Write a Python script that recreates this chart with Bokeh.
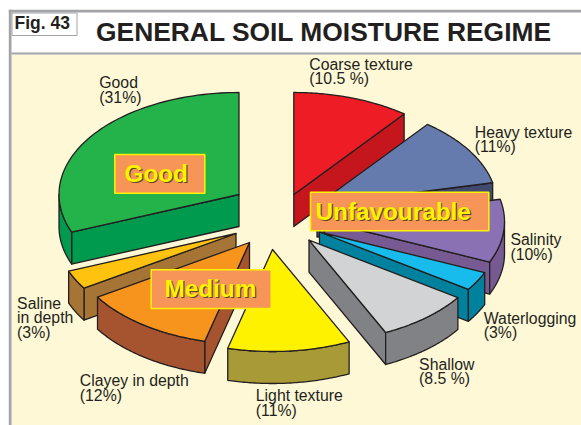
import numpy as np
from bokeh.core.properties import value
from bokeh.embed import file_html
from bokeh.models import Range1d
from bokeh.plotting import figure
from bokeh.resources import INLINE

# ---- data ----
categories = ["Good", "Saline in depth", "Clayey in depth", "Light texture", "Shallow",
              "Waterlogging", "Salinity", "Heavy texture", "Coarse texture"]
shares = [31, 3, 12, 11, 8.5, 3, 10, 11, 10.5]
share_labels = ["(31%)", "(3%)", "(12%)", "(11%)", "(8.5 %)", "(3%)", "(10%)", "(11%)", "(10.5 %)"]
group_labels = ["Good", "Medium", "Unfavourable"]
title_text = "GENERAL SOIL MOISTURE REGIME"
fig_text = "Fig. 43"

# ---- styles / layout (reference pixel coordinates) ----
top_colors = ["#24b24b", "#ffc20e", "#f7941d", "#fff200", "#d1d3d4", "#17bced", "#8a71b3", "#667bad", "#ee1c25"]
wall_colors = ["#009a4e", "#a67434", "#a65430", "#a89a36", "#808285", "#00829e", "#785a92", "#3f4a6e", "#c4161c"]
centers = [(238.5, 194), (235.5, 233), (249, 242), (272, 249), (308.5, 239.7),
           (319, 231.5), (324, 221), (316.5, 204.5), (293.3, 194)]
draw_order = [8, 7, 6, 5, 4, 0, 1, 2, 3]
RX, RY, DEPTH = 180, 102, 32
INK = "#231f20"
CREAM = "#fef8d6"
GRAY = "#a3a4a8"
LEFT, RIGHT, TOP, BOTTOM = 0, 581, 0, 425
BASE_SHIFT = 0.36

label_lines = {
    0: (98.8, [(88, "Good")], 102.7),
    1: (16.6, [(308.7, "Saline"), (323, "in depth")], 338),
    2: (79.3, [(386, "Clayey in depth")], 401),
    3: (255.3, [(401, "Light texture")], 416),
    4: (418.6, [(369.3, "Shallow")], 384),
    5: (483.3, [(323.7, "Waterlogging")], 338),
    6: (510, [(244.7, "Salinity")], 259.7),
    7: (474.3, [(137.5, "Heavy texture")], 152),
    8: (308.8, [(69.5, "Coarse texture")], 84),
}
boxes = [(114.3, 204.3, 154, 192.7, 124, 182, "#f79558"),
         (150.7, 270.7, 269.3, 308, 164, 297, "#f79558"),
         (310, 488.3, 191.7, 230.3, 315, 220, "#f79558")]

p = figure(width=RIGHT - LEFT, height=BOTTOM - TOP, x_range=Range1d(LEFT, RIGHT), y_range=Range1d(BOTTOM, TOP),
           output_backend="svg", toolbar_location=None, min_border=0, outline_line_color=None,
           background_fill_color="white", border_fill_color="white")
p.axis.visible = False
p.grid.visible = False

# frame
p.quad(left=[11], right=[RIGHT], top=[12], bottom=[52], fill_color="white", line_color=None)
p.quad(left=[11], right=[RIGHT], top=[54], bottom=[BOTTOM], fill_color=CREAM, line_color=None)
p.quad(left=[8.3], right=[11], top=[9.3], bottom=[BOTTOM], fill_color=GRAY, line_color=None)
p.quad(left=[8.3], right=[RIGHT], top=[9.3], bottom=[12], fill_color=GRAY, line_color=None)
p.quad(left=[11], right=[RIGHT], top=[52], bottom=[54], fill_color=GRAY, line_color=None)
p.quad(left=[11.5], right=[76.5], top=[12.5], bottom=[35], fill_color="white", line_color=GRAY, line_width=1)

# slice geometry comes from the shares, going counter-clockwise from twelve o'clock
cum = np.cumsum([0] + shares) / sum(shares) * 360 + 90


def arc(cx, cy, a0, a1, drop=0.0):
    t = np.radians(np.linspace(a0, a1, 60))
    return cx + RX * np.cos(t), cy - RY * np.sin(t) + drop


def poly(xs, ys, fill):
    p.patch(list(xs), list(ys), fill_color=fill, line_color=INK, line_width=1.3, line_join="round")


def put_text(x, y, s, size, color=INK, bold=False):
    p.text([x], [y - BASE_SHIFT * size], text=[s], text_font=value("Liberation Sans"),
           text_font_style="bold" if bold else "normal", text_font_size=f"{size}px",
           text_color=color, text_baseline="alphabetic", text_align="left")


for i in draw_order:
    cx, cy = centers[i]
    a0, a1 = cum[i], cum[i + 1]
    wall = wall_colors[i]
    # radial cut faces that look towards the viewer
    for a, visible in ((a0, np.cos(np.radians(a0)) > 1e-6), (a1, np.cos(np.radians(a1)) < -1e-6)):
        if visible:
            ex, ey = arc(cx, cy, a, a)
            poly([cx, ex[0], ex[0], cx], [cy, ey[0], ey[0] + DEPTH, cy + DEPTH], wall)
    # outer rim on the lower half of the ellipse
    for lo, hi in ((180, 360), (540, 720)):
        w0, w1 = max(a0, lo), min(a1, hi)
        if w1 > w0:
            ux, uy = arc(cx, cy, w0, w1)
            lx, ly = arc(cx, cy, w1, w0, DEPTH)
            poly(np.r_[ux, lx], np.r_[uy, ly], wall)
    # top face
    tx, ty = arc(cx, cy, a0, a1)
    poly(np.r_[cx, tx], np.r_[cy, ty], top_colors[i])

# slice labels
for i, (x, lines, share_y) in label_lines.items():
    for y, t in lines:
        put_text(x, y, t, 15.8)
    put_text(x, share_y, share_labels[i], 15.8)

# group boxes
for (l, r, t, b, tx, ty, c), name in zip(boxes, group_labels):
    p.quad(left=[l], right=[r], top=[t], bottom=[b], fill_color=c, line_color="#fff200", line_width=1.5)
    put_text(tx + 1.2, ty + 1.2, name, 24.3, "#5c4a1e", True)
    put_text(tx, ty, name, 24.3, "#fff200", True)

# titles
put_text(95.5, 41.5, title_text, 26.4, INK, True)
put_text(14, 28.5, fig_text, 17.5, INK, True)

open("out.html", "w").write(file_html(p, INLINE))
